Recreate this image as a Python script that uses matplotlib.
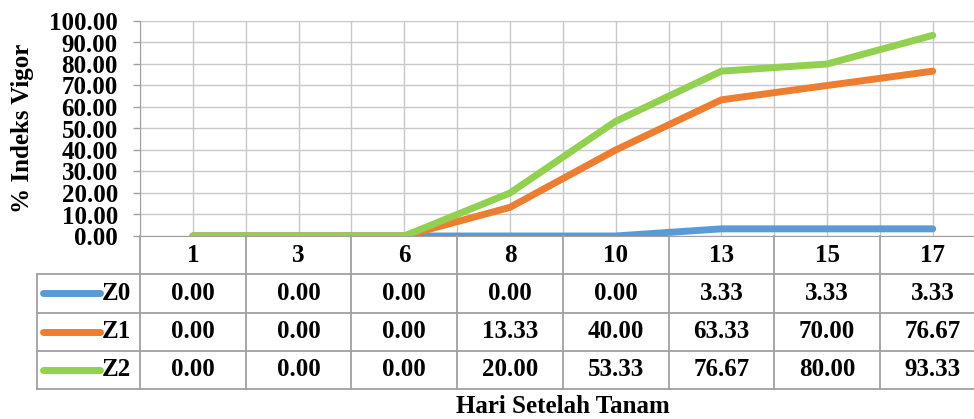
import matplotlib.pyplot as plt
import numpy as np

plt.rcParams['font.family'] = ['Liberation Serif', 'DejaVu Serif']
plt.rcParams['font.weight'] = 'bold'

days = ['1', '3', '6', '8', '10', '13', '15', '17']
z0 = [0.00, 0.00, 0.00, 0.00, 0.00, 3.33, 3.33, 3.33]
z1 = [0.00, 0.00, 0.00, 13.33, 40.00, 63.33, 70.00, 76.67]
z2 = [0.00, 0.00, 0.00, 20.00, 53.33, 76.67, 80.00, 93.33]
names = ['Z0', 'Z1', 'Z2']
colors = ['#5b9bd5', '#ed7d31', '#92d050']
series = [z0, z1, z2]

W, H = 974, 419
fig = plt.figure(figsize=(W / 100, H / 100), dpi=100)

x0, cw = 140, 105.7
n = len(days)
grid_c = '#c8c8c8'
tab_c = '#a0a0a0'

# main plot area
ax = fig.add_axes([x0 / W, (H - 236) / H, n * cw / W, 215 / H])
x = np.arange(n) + 0.5
for vals, c in zip(series, colors):
    ax.plot(x, vals, color=c, lw=5, solid_capstyle='round', solid_joinstyle='round', zorder=3)
ax.set_xlim(0, n)
ax.set_ylim(0, 100)
ax.set_yticks(np.arange(0, 101, 10))
ax.set_yticklabels([f'{v:.2f}' for v in np.arange(0, 101, 10)], fontsize=18, fontweight='bold')
ax.set_xticks(np.arange(0, n + 0.01, 0.5))
ax.set_xticklabels([])
ax.tick_params(axis='x', length=0)
ax.tick_params(axis='y', length=5, width=1, color=tab_c, pad=11)
ax.grid(True, color=grid_c, lw=1)
for s in ['top', 'right']:
    ax.spines[s].set_visible(False)
ax.spines['left'].set_color(tab_c)
ax.spines['bottom'].set_color(tab_c)
ax.set_axisbelow(True)

# data table below the plot
tb = fig.add_axes([x0 / W, (H - 389) / H, n * cw / W, 153 / H])
tb.set_xlim(0, n)
tb.set_ylim(4, 0)
tb.axis('off')
lx = (37 - x0) / cw
for r in range(1, 5):
    tb.plot([lx, n + 1], [r, r], color=tab_c, lw=1.3, clip_on=False)
tb.plot([lx, lx], [1, 4], color=tab_c, lw=1.3, clip_on=False)
for i in range(n + 1):
    tb.plot([i, i], [0, 4], color=tab_c, lw=1.3, clip_on=False)
for i, d in enumerate(days):
    tb.text(i + 0.5, 0.5, d, ha='center', va='center', fontsize=18, fontweight='bold')
for r, (nm, vals, c) in enumerate(zip(names, series, colors)):
    yy = r + 1.5
    tb.plot([(43 - x0) / cw, (100 - x0) / cw], [yy, yy], color=c, lw=5,
            solid_capstyle='round', clip_on=False)
    tb.text((102 - x0) / cw, yy, nm, ha='left', va='center', fontsize=18, fontweight='bold')
    for i, v in enumerate(vals):
        tb.text(i + 0.5, yy, f'{v:.2f}', ha='center', va='center', fontsize=18, fontweight='bold')

fig.text(23 / W, 1 - 128 / H, '% Indeks Vigor', rotation=90, ha='center', va='center',
         fontsize=18, fontweight='bold')
fig.text(563 / W, 1 / H, 'Hari Setelah Tanam', ha='center', va='bottom',
         fontsize=18, fontweight='bold')

fig.savefig('out.png', dpi=100)
